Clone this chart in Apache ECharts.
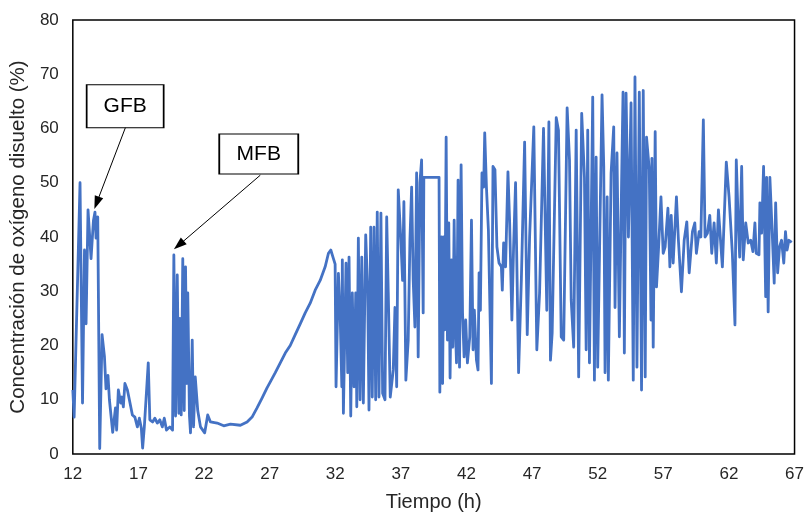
<!DOCTYPE html>
<html><head><meta charset="utf-8">
<script src="https://cdn.jsdelivr.net/npm/echarts@6/dist/echarts.min.js"></script>
<style>html,body{margin:0;padding:0;background:#fff}#c{width:807px;height:517px}</style>
</head><body><div id="c"></div>
<script>
// ---- data ----
const timeH = [
12.00,12.10,12.55,12.74,12.89,13.01,13.16,13.29,13.39,13.57,13.69,13.77,13.90,14.05,14.23,14.41,14.53,14.68,14.79,15.04,
15.25,15.34,15.47,15.65,15.75,15.85,15.97,16.16,16.31,16.54,16.73,16.92,17.07,17.22,17.32,17.45,17.57,17.75,17.87,18.08,
18.25,18.44,18.63,18.82,18.97,19.14,19.39,19.60,19.70,19.83,19.96,20.08,20.16,20.26,20.38,20.49,20.59,20.69,20.76,20.89,
20.97,21.10,21.20,21.33,21.52,21.73,22.05,22.28,22.49,23.00,23.50,24.01,24.77,25.28,25.66,26.04,26.42,26.80,27.05,27.43,
27.81,28.19,28.57,28.95,29.33,29.71,30.09,30.47,30.85,31.23,31.48,31.66,31.86,31.99,
32.06,32.24,32.37,32.50,32.54,32.62,32.82,32.95,33.05,33.18,33.30,33.43,33.56,33.64,33.76,33.89,34.02,34.14,34.32,34.47,
34.57,34.70,34.82,34.95,35.08,35.20,35.33,35.48,35.61,35.79,35.92,36.04,36.19,36.42,36.55,36.68,36.80,37.00,37.13,37.23,
37.38,37.56,37.69,37.82,37.94,38.07,38.20,38.32,38.45,38.58,38.70,38.75,39.91,39.97,
40.10,40.18,40.27,40.35,40.45,40.55,40.65,40.75,40.86,40.96,41.06,41.16,41.24,41.36,41.47,41.59,41.70,41.82,41.94,42.07,
42.25,42.38,42.50,42.60,42.76,42.88,42.96,43.06,43.18,43.31,43.39,43.52,43.67,43.90,44.02,44.17,44.32,44.48,44.66,44.73,
44.83,44.98,45.16,45.29,45.46,45.59,45.74,45.97,46.18,46.43,46.63,46.81,47.13,47.36,47.57,47.87,48.12,48.28,48.40,48.53,
48.84,49.01,49.22,49.41,49.67,49.85,49.98,50.17,50.36,50.55,50.78,50.99,51.12,51.24,51.37,51.62,51.75,51.88,52.00,52.33,
52.46,52.56,52.72,52.81,53.02,53.22,53.32,53.47,53.65,53.82,53.93,54.03,54.16,54.34,54.54,54.71,54.84,54.99,55.17,55.34,
55.47,55.62,55.72,55.93,56.06,56.13,56.23,56.38,56.48,56.63,56.82,56.99,57.14,57.35,57.50,57.60,57.75,58.00,58.15,58.38,
58.59,58.79,58.97,59.22,59.40,59.52,59.73,59.86,60.05,60.18,60.36,60.54,60.69,60.87,61.04,61.20,61.50,61.80,62.01,62.26,
62.46,62.56,62.72,62.82,62.97,63.09,63.28,63.47,63.66,63.83,63.98,64.08,64.29,64.36,64.49,64.64,64.80,64.87,64.99,65.12,
65.30,65.45,65.56,65.71,65.86,66.01,66.18,66.31,66.43,66.57,66.78
];
const oxygen = [
11.8,6.8,50,9.4,37.6,24,45,40,36,43,44.6,39.8,43.7,1,22,18,12,14.5,10,4,
8.5,4.4,11.8,9.4,10.5,8.7,13,11.8,10,7.2,6.8,5,6.6,4.8,1.1,5,5,16.8,6.3,5.9,
6.6,5.7,6.3,5,6.6,4.4,5,4.4,36.7,7,33,7.5,25,7.2,36,8,34.5,13,29.7,7,
3.9,21,5,14.2,8,5,3.9,7.2,5.9,5.7,5.2,5.5,5.3,5.9,6.8,8.5,10.3,12.2,13.3,15,
16.8,18.6,20,22,24,26,27.8,30.2,32,34.5,37,37.6,36,35,
12.4,33.3,26,12.4,35.8,7.5,35.2,15,36.3,7,29.7,12.4,29.7,8.7,39.8,10,36.3,9.4,40.4,30.2,
8.1,41.8,10.5,41.8,10,44.6,10.5,44.4,11.2,10,43.7,29.7,10.5,15.5,27,12.4,48.7,39.4,32,46.5,
13.6,21,39.4,49.2,32,23.4,51.8,17.9,50,54.2,26,51,51,11.4,
40,13,40,22.9,58.4,21,42.6,14,35.8,19.7,43.1,22.9,16.8,50.5,16,53.3,26,17.9,24.7,16.8,
21.6,43.1,19.2,26.5,17.3,15.5,33.4,26.5,51.8,49.2,59.2,49.2,41.3,13,53,52.4,38.2,35.2,34.5,30.2,
38.9,34.5,52,42.6,24.7,38.2,50,15,32,57.5,22,40,60.3,19.2,29.7,60,26.5,61.2,17.3,22.3,
62,59.7,21.6,21,63.8,54.2,28.4,19.7,59.7,14.2,62.8,51,19.2,59.7,16.8,65.8,13.6,54.7,16,66.2,
53,15,47.4,13.6,51.8,60.3,27,55.5,21.6,50,66.7,18.6,66.5,40,64.7,13.6,69.5,16,66.7,11.8,
67,14.2,58.4,52.4,24.7,54.5,19.7,59.4,30.8,37.6,47.4,37,38.2,45.3,34.5,44,35.2,47.4,39.4,29.9,
39.4,42.8,33.4,41,42.6,37,41,40,61.6,40,40.7,44,37,42.6,35.2,45,34.5,53.8,47.4,37,
23.8,54.2,41.8,36.3,53,35.8,42.6,38.9,39.4,37.3,42.6,37,36.7,46.3,40.7,53,29,51,26.2,51,
40.7,31.5,46.3,33.4,38.2,39.4,35.2,41,37.6,39.4,39
];
const xTickLabels = [12,17,22,27,32,37,42,47,52,57,62,67];
const yTickLabels = [0,10,20,30,40,50,60,70,80];
const xTitle = 'Tiempo (h)';
const yTitle = 'Concentración de oxígeno disuelto (%)';
const calloutText = ['GFB','MFB'];
const calloutBox = [[15.99,64.1],[26.17,55.3]];
const calloutFrom = [[16.03,60.3],[26.29,51.4]];
const calloutTo = [[13.82,46.3],[20.08,38.5]];

// ---- chart ----
const FONT = 'Liberation Sans, Arial, sans-serif';
const chart = echarts.init(document.getElementById('c'), null, {renderer:'canvas'});
const seriesData = timeH.map((t,i)=>[t, oxygen[i]]);
chart.setOption({
  animation:false,
  backgroundColor:'#fff',
  grid:{left:72,right:11,top:20,bottom:63,show:true,borderColor:'#000',borderWidth:1.5,backgroundColor:'transparent'},
  xAxis:{type:'value',min:xTickLabels[0],max:xTickLabels[xTickLabels.length-1],interval:xTickLabels[1]-xTickLabels[0],
    name:xTitle,nameLocation:'middle',nameGap:38,
    nameTextStyle:{fontFamily:FONT,fontSize:20,color:'#262626'},
    axisLine:{show:false},axisTick:{show:false},splitLine:{show:false},
    axisLabel:{fontFamily:FONT,fontSize:17,color:'#262626',margin:12}},
  yAxis:{type:'value',min:yTickLabels[0],max:yTickLabels[yTickLabels.length-1],interval:yTickLabels[1]-yTickLabels[0],
    name:yTitle,nameLocation:'middle',nameGap:43,
    nameTextStyle:{fontFamily:FONT,fontSize:20.5,color:'#262626'},
    axisLine:{show:false},axisTick:{show:false},splitLine:{show:false},
    axisLabel:{fontFamily:FONT,fontSize:17,color:'#262626',margin:14}},
  series:[{
    type:'line',data:seriesData,showSymbol:false,symbol:'none',
    lineStyle:{color:'#4472C4',width:2.8,join:'round'},
    markLine:{silent:true,symbol:['none','triangle'],symbolSize:[9,13],
      label:{show:false},
      lineStyle:{color:'#000',width:1,type:'solid'},
      data:calloutFrom.map((f,i)=>[{coord:f},{coord:calloutTo[i]}])},
    markPoint:{silent:true,
      data:calloutBox.map((c,i)=>({coord:c,symbol:'rect',symbolSize:i===0?[77,43]:[79,40],
        itemStyle:{color:'#fff',borderColor:'#000',borderWidth:1.3},
        label:{show:true,position:'inside',formatter:calloutText[i],fontFamily:FONT,fontSize:21,color:'#000'}}))}
  }]
});
</script></body></html>
